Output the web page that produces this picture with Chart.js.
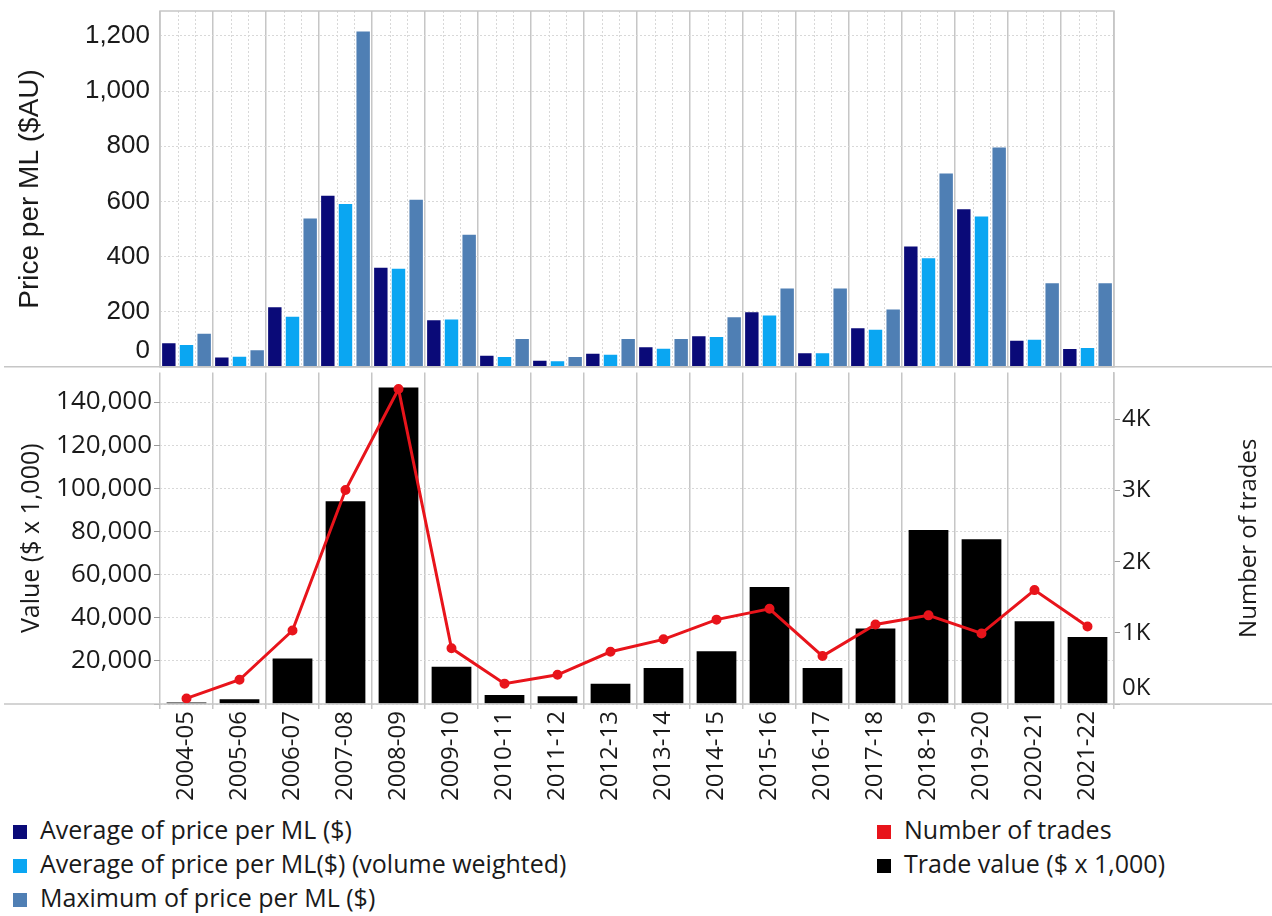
<!DOCTYPE html>
<html>
<head>
<meta charset="utf-8">
<script src="https://cdn.jsdelivr.net/npm/chart.js@4.4.1/dist/chart.umd.min.js"></script>
<style>
  body { margin: 0; background: #fff; width: 1272px; height: 916px; overflow: hidden; position: relative; font-family: "Open Sans", sans-serif; }
  #top { position: absolute; left: 0; top: 0; width: 1272px; height: 377px; z-index: 2; }
  #bottom { position: absolute; left: 0; top: 366px; width: 1272px; height: 451px; z-index: 1; }
  .leg { position: absolute; font-size: 25px; color: #1a1a1a; line-height: 34px; white-space: nowrap; }
  .leg div { height: 34px; }
  .leg span { display: inline-block; width: 14px; height: 14px; margin-right: 13px; vertical-align: 0px; }
</style>
</head>
<body>
<div id="top"><canvas id="priceChart"></canvas></div>
<div id="bottom"><canvas id="tradeChart"></canvas></div>
<div class="leg" style="left:13px; top:812px;">
  <div><span style="background:#0a0a78"></span>Average of price per ML ($)</div>
  <div><span style="background:#0aa6f2"></span>Average of price per ML($) (volume weighted)</div>
  <div><span style="background:#4f7fb4"></span>Maximum of price per ML ($)</div>
</div>
<div class="leg" style="left:877px; top:812px;">
  <div><span style="background:#e8141b"></span>Number of trades</div>
  <div><span style="background:#000"></span>Trade value ($ x 1,000)</div>
</div>
<script>
const seasons = ['2004-05', '2005-06', '2006-07', '2007-08', '2008-09', '2009-10', '2010-11', '2011-12', '2012-13',
  '2013-14', '2014-15', '2015-16', '2016-17', '2017-18', '2018-19', '2019-20', '2020-21', '2021-22'];

// price per ML ($AU)
const avgPrice = [86, 34, 216, 620, 359, 169, 40, 22, 48, 71, 111, 198, 49, 140, 436, 571, 95, 65];
const avgPriceWeighted = [79, 37, 182, 590, 356, 172, 36, 20, 44, 66, 108, 186, 49, 135, 394, 545, 98, 68];
const maxPrice = [120, 60, 538, 1216, 606, 479, 101, 36, 101, 101, 180, 284, 284, 208, 701, 795, 303, 303];

// trade value ($ x 1,000) and number of trades
const tradeValue = [700, 2200, 21100, 94000, 146800, 17300, 4200, 3600, 9400, 16700, 24400, 54200, 16700, 35000, 80700, 76400, 38400, 31100];
const tradeCount = [78, 341, 1033, 3008, 4429, 784, 286, 410, 734, 909, 1186, 1338, 674, 1117, 1246, 992, 1601, 1089];

// axis ticks and tops
const priceTicks = [0, 200, 400, 600, 800, 1000, 1200];
const valueTicks = [0, 20000, 40000, 60000, 80000, 100000, 120000, 140000];
const countTicks = [0, 1000, 2000, 3000, 4000];
const priceMax = 1290;
const valueMax = 153700;
const countMax = 4660;

const sepColor = '#c6c6c6';
const dotColor = '#d8d8d8';
const useTicks = list => s => { s.ticks = list.map(v => ({ value: v })); };

// tableau style extras: sub-column dotted lines, frame, base line, lifted zero label, right title
const extras = {
  id: 'extras',
  beforeDatasetsDraw(chart, args, opts) {
    if (!opts.subLines) return;
    const { ctx, chartArea: a, scales: { x } } = chart;
    const w = x.getPixelForValue(1) - x.getPixelForValue(0);
    ctx.save();
    ctx.strokeStyle = dotColor;
    ctx.lineWidth = 1;
    ctx.setLineDash([2, 2]);
    seasons.forEach((s, i) => {
      const x0 = x.getPixelForValue(i) - w / 2;
      [1, 2].forEach(k => {
        const px = Math.round(x0 + w * k / 3) + 0.5;
        ctx.beginPath();
        ctx.moveTo(px, a.top);
        ctx.lineTo(px, a.bottom);
        ctx.stroke();
      });
    });
    ctx.restore();
  },
  afterDraw(chart, args, opts) {
    const { ctx, chartArea: a } = chart;
    ctx.save();
    ctx.strokeStyle = sepColor;
    ctx.lineWidth = 1.5;
    if (opts.frame) ctx.strokeRect(a.left, a.top, a.right - a.left, a.bottom - a.top);
    ctx.beginPath();
    ctx.moveTo(4, a.bottom);
    ctx.lineTo(chart.width, a.bottom);
    ctx.stroke();
    ctx.fillStyle = '#1a1a1a';
    (opts.zeroLabels || []).forEach(z => {
      const sc = chart.scales[z.axis];
      ctx.font = z.font;
      ctx.textAlign = z.align;
      ctx.textBaseline = 'alphabetic';
      ctx.fillText(z.text, z.align === 'right' ? sc.right - z.gap : sc.left + z.gap, sc.getPixelForValue(0) - 9);
    });
    if (opts.rightTitle) {
      const t = opts.rightTitle;
      ctx.font = t.font;
      ctx.textAlign = 'center';
      ctx.textBaseline = 'middle';
      ctx.translate(t.x, (a.top + a.bottom) / 2);
      ctx.rotate(-Math.PI / 2);
      ctx.fillText(t.text, 0, 0);
    }
    ctx.restore();
  }
};

const tickFont = { family: 'Open Sans', size: 24 };
const yTickFont = { family: 'Open Sans', size: 26, lineHeight: 0.01 };

new Chart(document.getElementById('priceChart'), {
  type: 'bar',
  data: {
    labels: seasons,
    datasets: [
      { label: 'Average of price per ML ($)', data: avgPrice, backgroundColor: '#0a0a78' },
      { label: 'Average of price per ML($) (volume weighted)', data: avgPriceWeighted, backgroundColor: '#0aa6f2' },
      { label: 'Maximum of price per ML ($)', data: maxPrice, backgroundColor: '#4f7fb4' }
    ]
  },
  plugins: [extras],
  options: {
    responsive: true,
    maintainAspectRatio: false,
    animation: false,
    layout: { padding: { top: 11, right: 158, bottom: 0, left: 0 } },
    datasets: { bar: { categoryPercentage: 1, barPercentage: 0.76 } },
    plugins: {
      legend: { display: false },
      tooltip: { enabled: false },
      extras: {
        subLines: true,
        frame: true,
        zeroLabels: [{ axis: 'y', text: '0', align: 'right', gap: 10, font: '26px "Liberation Sans"' }]
      }
    },
    scales: {
      x: {
        ticks: { display: false },
        grid: { offset: true, color: sepColor, lineWidth: 1.5, drawTicks: false },
        border: { display: false }
      },
      y: {
        min: 0,
        max: priceMax,
        afterFit: s => { s.width = 160; },
        afterBuildTicks: useTicks(priceTicks),
        ticks: {
          autoSkip: false,
          padding: 10,
          color: '#1a1a1a',
          font: { family: 'Liberation Sans', size: 26, lineHeight: 0.01 },
          callback: v => v === 0 ? '' : v.toLocaleString('en-US')
        },
        grid: { color: dotColor, drawTicks: false },
        border: { display: false, dash: [2, 2] },
        title: {
          display: true,
          text: 'Price per ML ($AU)',
          color: '#1a1a1a',
          font: { family: 'Liberation Sans', size: 28 },
          padding: { top: 13, bottom: 0 }
        }
      }
    }
  }
});

new Chart(document.getElementById('tradeChart'), {
  data: {
    labels: seasons,
    datasets: [
      {
        type: 'line', label: 'Number of trades', data: tradeCount, yAxisID: 'yRight', order: 0,
        borderColor: '#e8141b', backgroundColor: '#e8141b', borderWidth: 3,
        pointRadius: 3.5, pointHoverRadius: 3.5, tension: 0
      },
      {
        type: 'bar', label: 'Trade value ($ x 1,000)', data: tradeValue, yAxisID: 'yLeft', order: 1,
        backgroundColor: '#000', categoryPercentage: 1, barPercentage: 0.75
      }
    ]
  },
  plugins: [extras],
  options: {
    responsive: true,
    maintainAspectRatio: false,
    animation: false,
    layout: { padding: { top: 2, right: 0, bottom: 0, left: 0 } },
    plugins: {
      legend: { display: false },
      tooltip: { enabled: false },
      extras: {
        zeroLabels: [{ axis: 'yRight', text: '0K', align: 'left', gap: 8, font: '24px "Open Sans"' }],
        rightTitle: { text: 'Number of trades', x: 1249, font: '24px "Open Sans"' }
      }
    },
    scales: {
      x: {
        afterFit: s => { s.height = 113; },
        ticks: { minRotation: 90, maxRotation: 90, padding: 2, color: '#1a1a1a', font: tickFont, autoSkip: false },
        grid: { offset: true, color: sepColor, lineWidth: 1.5, tickLength: 5 },
        border: { display: false }
      },
      yLeft: {
        type: 'linear',
        position: 'left',
        min: 0,
        max: valueMax,
        afterFit: s => { s.width = 160; },
        afterBuildTicks: useTicks(valueTicks),
        ticks: {
          autoSkip: false,
          padding: 2,
          color: '#1a1a1a',
          font: yTickFont,
          callback: v => v === 0 ? '' : v.toLocaleString('en-US')
        },
        grid: { color: dotColor, tickColor: '#9a9a9a', tickLength: 6, tickBorderDash: [] },
        border: { display: false, dash: [2, 2] },
        title: {
          display: true,
          text: 'Value ($ x 1,000)',
          color: '#1a1a1a',
          font: { family: 'Open Sans', size: 25 },
          padding: { top: 17, bottom: 0 }
        }
      },
      yRight: {
        type: 'linear',
        position: 'right',
        min: 0,
        max: countMax,
        afterFit: s => { s.width = 158; },
        afterBuildTicks: useTicks(countTicks),
        ticks: {
          autoSkip: false,
          padding: 2,
          color: '#1a1a1a',
          font: { family: 'Open Sans', size: 24, lineHeight: 0.01 },
          callback: v => v === 0 ? '' : (v / 1000) + 'K'
        },
        grid: { drawOnChartArea: false, tickColor: '#9a9a9a', tickLength: 6 },
        border: { display: true, color: sepColor, width: 1.5 }
      }
    }
  }
});
</script>
</body>
</html>
